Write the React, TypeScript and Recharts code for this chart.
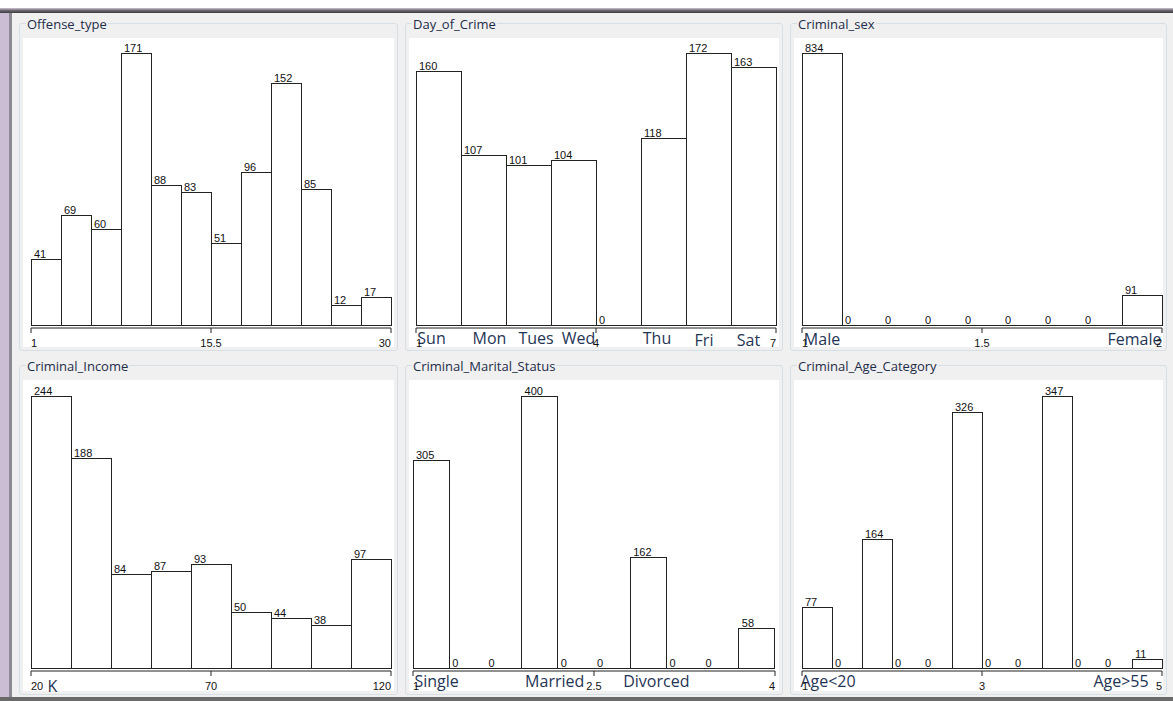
import { Bar, ComposedChart, LabelList, Line, ReferenceLine, XAxis, YAxis } from "recharts";

const offenseCounts = [41, 69, 60, 171, 88, 83, 51, 96, 152, 85, 12, 17];
const offenseNames: string[] = [];
const offenseTicks = [1, 15.5, 30];

const dayCounts = [160, 107, 101, 104, 0, 118, 172, 163];
const dayNames = ["Sun", "Mon", "Tues", "Wed", "", "Thu", "Fri", "Sat"];
const dayTicks = [1, 4, 7];

const sexCounts = [834, 0, 0, 0, 0, 0, 0, 0, 91];
const sexNames = ["Male", "", "", "", "", "", "", "", "Female"];
const sexTicks = [1, 1.5, 2];

const incomeCounts = [244, 188, 84, 87, 93, 50, 44, 38, 97];
const incomeNames = ["K"];
const incomeTicks = [20, 70, 120];

const maritalCounts = [305, 0, 0, 400, 0, 0, 162, 0, 0, 58];
const maritalNames = ["Single", "", "", "Married", "", "", "Divorced"];
const maritalTicks = [1, 2.5, 4];

const ageCounts = [77, 0, 164, 0, 0, 326, 0, 0, 347, 0, 0, 11];
const ageNames = ["Age<20", "", "", "", "", "", "", "", "", "", "", "Age>55"];
const ageTicks = [1, 3, 5];

const PLOT_H = 274;
const SMALL_FONT = "'Liberation Sans Narrow', 'Liberation Sans', Arial, sans-serif";

// box = [left, top, width, height], plot = [left, right, top]
// nudge shifts the hand-written category notes off the bin centre
const panels = [
    { title: "Offense_type", counts: offenseCounts, names: offenseNames, ticks: offenseTicks, box: [19, 23, 379, 328], plot: [31, 391, 53], nudge: {} },
    {
        title: "Day_of_Crime", counts: dayCounts, names: dayNames, ticks: dayTicks, box: [405, 23, 378, 328], plot: [416, 776, 53],
        nudge: { Sun: [-7, 0], Mon: [6, 0], Tues: [7.5, 0], Wed: [5, 0], Thu: [-6.5, 0], Fri: [-4.5, 2], Sat: [-5, 2] },
    },
    { title: "Criminal_sex", counts: sexCounts, names: sexNames, ticks: sexTicks, box: [790, 23, 377, 328], plot: [802, 1162, 53], nudge: { Male: [0, 1.5], Female: [-7.5, 1.5] } },
    { title: "Criminal_Income", counts: incomeCounts, names: incomeNames, ticks: incomeTicks, box: [19, 365, 379, 330], plot: [31, 391, 396], nudge: { K: [1.5, 5] } },
    {
        title: "Criminal_Marital_Status", counts: maritalCounts, names: maritalNames, ticks: maritalTicks, box: [405, 365, 378, 330], plot: [413, 775, 396],
        nudge: { Single: [5.5, 0], Married: [15, 0], Divorced: [8, 0] },
    },
    { title: "Criminal_Age_Category", counts: ageCounts, names: ageNames, ticks: ageTicks, box: [790, 365, 377, 330], plot: [802, 1162, 396], nudge: { "Age<20": [11, 0], "Age>55": [-26, 0] } },
];

const makeNumTick = (ticks: number[]) => (props: any) => {
    const { x, y, payload } = props;
    const v = payload.value;
    const anchor = v === ticks[0] ? "start" : v === ticks[ticks.length - 1] ? "end" : "middle";
    return (
        <text x={x} y={y} dy="0.71em" textAnchor={anchor} fontSize={11} fontFamily={SMALL_FONT} fill="#111">
            {v}
        </text>
    );
};

// category ticks carry the empty-bin "0" counts and the written notes under the bins
const makeBinTick = (rows: any[], band: number, nudge: Record<string, number[]>) => (props: any) => {
    const { x, y, payload } = props;
    const row = rows[payload.value];
    if (!row) return <g />;
    const base = y - 2;
    const [dx, dy] = nudge[row.name] || [0, 0];
    return (
        <g>
            {row.count === 0 && (
                <text x={x - band / 2 + 3} y={base - 1.5} fontSize={11} fontFamily={SMALL_FONT} fill="#111">
                    0
                </text>
            )}
            {row.name && (
                <text x={x + dx} y={base + 18.5 + dy} textAnchor="middle" fontSize={16} fontFamily="'Open Sans', sans-serif" fill="#1f3555">
                    {row.name}
                </text>
            )}
        </g>
    );
};

const countLabel = (props: any) => {
    const vb = props.viewBox || props;
    if (!props.value) return null;
    return (
        <text x={vb.x + 3} y={vb.y - 1.5} fontSize={11} fontFamily={SMALL_FONT} fill="#111">
            {props.value}
        </text>
    );
};

const Histogram = ({ panel }: { panel: (typeof panels)[number] }) => {
    const [bl, bt, bw, bh] = panel.box;
    const [pl, pr, pt] = panel.plot;
    const rows = panel.counts.map((count, i) => ({ bin: i, count, name: panel.names[i] || "" }));
    const tickRows = panel.ticks.map((t) => ({ at: t, base: 0 }));
    const lo = panel.ticks[0];
    const hi = panel.ticks[panel.ticks.length - 1];
    const band = (pr - pl) / rows.length;

    return (
        <>
            <div style={{ position: "absolute", left: bl, top: bt, width: bw, height: bh, boxSizing: "border-box", border: "1px solid #d5dfe5", borderRadius: 3 }} />
            <div style={{ position: "absolute", left: bl + 4, top: bt + 15, width: bw - 8, height: bh - 19, background: "#fff" }} />
            <span
                style={{
                    position: "absolute",
                    left: bl + 7,
                    top: bt - 7.5,
                    padding: "0 1px",
                    background: "#f0f0f0",
                    fontFamily: "'Open Sans', sans-serif",
                    fontSize: 13,
                    lineHeight: "17px",
                    color: "#1e2c48",
                    whiteSpace: "nowrap",
                }}
            >
                {panel.title}
            </span>
            <div style={{ position: "absolute", left: pl - 12, top: pt - 16 }}>
                <ComposedChart
                    width={pr - pl + 24}
                    height={16 + PLOT_H + 1 + 24}
                    data={rows}
                    margin={{ top: 16, right: 12, bottom: 0, left: 12 }}
                    barCategoryGap={0}
                    barGap={0}
                >
                    <XAxis
                        xAxisId="cat"
                        dataKey="bin"
                        height={1}
                        interval={0}
                        axisLine={false}
                        tickLine={false}
                        tickSize={0}
                        tickMargin={0}
                        tick={makeBinTick(rows, band, panel.nudge as Record<string, number[]>)}
                    />
                    <XAxis
                        xAxisId="num"
                        dataKey="at"
                        type="number"
                        domain={[lo, hi]}
                        ticks={panel.ticks}
                        interval={0}
                        allowDataOverflow
                        height={24}
                        tickSize={5}
                        tickMargin={6}
                        axisLine={{ stroke: "#222" }}
                        tickLine={{ stroke: "#222" }}
                        tick={makeNumTick(panel.ticks)}
                    />
                    <YAxis yAxisId="y" hide domain={[0, "dataMax"]} padding={{ top: 0, bottom: 2 }} />
                    <ReferenceLine xAxisId="cat" yAxisId="y" y={0} stroke="#222" shapeRendering="crispEdges" />
                    <Bar
                        xAxisId="cat"
                        yAxisId="y"
                        dataKey="count"
                        fill="#fff"
                        stroke="#222"
                        strokeWidth={1}
                        shapeRendering="crispEdges"
                        isAnimationActive={false}
                    >
                        <LabelList dataKey="count" content={countLabel} />
                    </Bar>
                    <Line
                        xAxisId="num"
                        yAxisId="y"
                        data={tickRows}
                        dataKey="base"
                        stroke="none"
                        dot={false}
                        activeDot={false}
                        legendType="none"
                        isAnimationActive={false}
                    />
                </ComposedChart>
            </div>
        </>
    );
};

const App = () => {
    return (
        <div style={{ position: "absolute", left: 0, top: 0, width: 1173, height: 701, background: "#f0f0f0", overflow: "hidden" }}>
            {/* window chrome */}
            <div style={{ position: "absolute", left: 0, top: 0, width: 1173, height: 8, background: "#fff" }} />
            <div style={{ position: "absolute", left: 0, top: 8, width: 1173, height: 5, background: "linear-gradient(#d2c4d6, #6a6670, #3c3c3c)" }} />
            <div style={{ position: "absolute", left: 0, top: 13, width: 9, height: 688, background: "#cbbdd3" }} />
            <div style={{ position: "absolute", left: 9, top: 13, width: 3, height: 688, background: "#8e8a94" }} />
            <div style={{ position: "absolute", left: 0, top: 697, width: 1173, height: 4, background: "#6a6a6a" }} />

            {panels.map((p) => (
                <Histogram key={p.title} panel={p} />
            ))}
        </div>
    );
};

export default App;
